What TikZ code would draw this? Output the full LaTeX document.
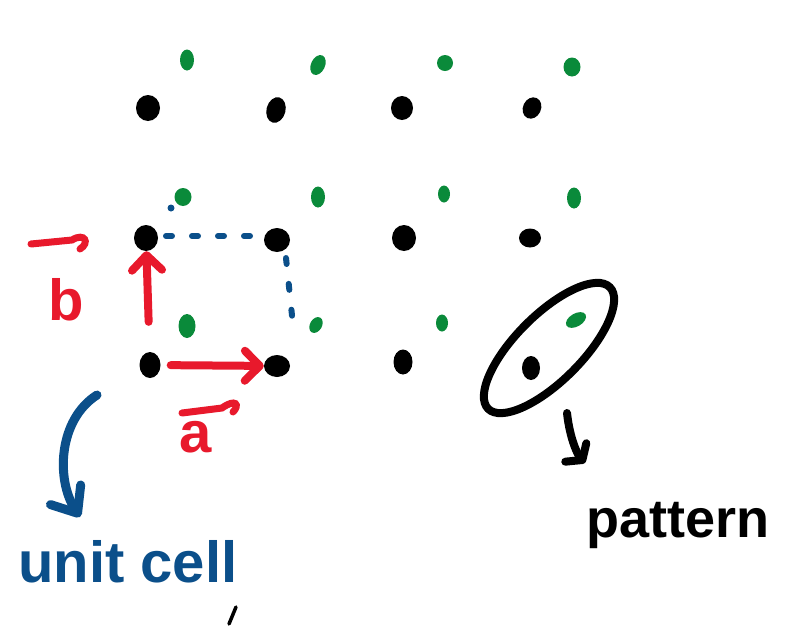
\documentclass[tikz,border=0pt]{standalone}
\usepackage{fontspec}
\setmainfont{Liberation Sans}
\usetikzlibrary{shapes.geometric,arrows.meta}
\definecolor{hred}{HTML}{E8192C}
\definecolor{hblue}{HTML}{0B4F8A}
\definecolor{hgreen}{HTML}{0A8A3A}
\begin{document}
\begin{tikzpicture}[x=1pt,y=-1pt,
  bdot/.style={ellipse,fill=black,draw=none,minimum width=24pt,minimum height=26pt,inner sep=0pt},
  gdot/.style={ellipse,fill=hgreen,draw=none,minimum width=14pt,minimum height=21pt,inner sep=0pt},
  redarrow/.style={hred,line width=8pt,line cap=round,-{Straight Barb[length=15pt,width=30pt,round]}},
  redhook/.style={hred,line width=7pt,line cap=round},
  celldots/.style={hblue,line width=6pt,line cap=round,dash pattern=on 6pt off 20pt},
  hand/.style={inner sep=0pt,font=\fontsize{58}{58}\selectfont\bfseries},
  ucarrow/.style={hblue,line width=9pt,line cap=round,-{Straight Barb[length=22pt,width=36pt,round]}},
  patarrow/.style={black,line width=8pt,line cap=round,-{Straight Barb[length=10pt,width=28pt,round]}}]
\useasboundingbox (0,0) rectangle (785,625);
% black lattice points
\node[bdot] (p11) at (148,108) {};
\node[bdot,rotate=-15,minimum width=19pt] (p12) at (276,110) {};
\node[bdot,minimum width=22pt,minimum height=24pt] (p13) at (402,108) {};
\node[bdot,rotate=-25,minimum width=18pt,minimum height=22pt] (p14) at (532,108) {};
\node[bdot] (p21) at (146,238) {};
\node[bdot,minimum width=26pt,minimum height=24pt] (p22) at (277,240) {};
\node[bdot] (p23) at (404,238) {};
\node[bdot,minimum width=22pt,minimum height=19pt] (p24) at (530,238) {};
\node[bdot,minimum width=21pt,minimum height=26pt] (p31) at (150,365) {};
\node[bdot,minimum width=26pt,minimum height=22pt] (p32) at (277,366) {};
\node[bdot,minimum width=19pt,minimum height=25pt] (p33) at (403,362) {};
\node[bdot,minimum width=18pt,minimum height=24pt] (p34) at (531,368) {};
% green points
\node[gdot] (g11) at (187,60) {};
\node[gdot,rotate=-25] (g12) at (318,65) {};
\node[gdot,minimum width=16pt,minimum height=16pt] (g13) at (445,63) {};
\node[gdot,minimum width=17pt,minimum height=19pt] (g14) at (572,67) {};
\node[gdot,minimum width=17pt,minimum height=18pt] (g21) at (183,197) {};
\node[gdot] (g22) at (318,197) {};
\node[gdot,minimum width=12pt,minimum height=17pt] (g23) at (444,194) {};
\node[gdot] (g24) at (574,198) {};
\node[gdot,minimum width=17pt,minimum height=24pt] (g31) at (187,326) {};
\node[gdot,rotate=-30,minimum width=12pt,minimum height=17pt] (g32) at (316,325) {};
\node[gdot,minimum width=12pt,minimum height=17pt] (g33) at (442,323) {};
\node[gdot,rotate=-60,minimum width=13pt,minimum height=22pt] (g34) at (576,320) {};
% dotted unit cell
\draw[celldots] (166,236) -- (250,236);
\draw[celldots] (286,258) -- (293,325);
\fill[hblue] (171,208) circle (3.5pt);
% lattice vectors
\draw[redarrow,shorten <=10pt,shorten >=0pt] (p31) -- (p32);
\draw[redarrow,shorten <=30pt,shorten >=0pt] (p31) -- (p21);
% vector labels
\node[hand,text=hred,anchor=base] (lb) at (66,320) {b};
\node[hand,text=hred,anchor=base] (la) at (196,452) {a};
\draw[redhook] (31,244) -- (72,240) .. controls (85,232) and (90,243) .. (80,249);
\draw[redhook] (182,413) -- (222,408) .. controls (236,398) and (240,405) .. (233,412);
% unit cell label
\node[hand,text=hblue,anchor=base west] (uc) at (18,582) {unit cell};
\coordinate (ucs) at (97,395);
\coordinate (uce) at (80,517);
\draw[ucarrow] (ucs) .. controls (58,420) and (56,480) .. (uce);
% pattern
\node[ellipse,draw=black,line width=8pt,rotate=45,minimum width=172pt,minimum height=66pt] (pat) at (549,348) {};
\node[hand,text=black,anchor=base west,font=\fontsize{54}{54}\selectfont\bfseries] (pt) at (586,537) {pattern};
\coordinate (pas) at (567,413);
\coordinate (pae) at (585,463);
\draw[patarrow] (pas) .. controls (570,440) and (578,455) .. (pae);
% stray mark
\draw[black,line width=3.5pt,line cap=round] (229,624) -- (236,607);
\end{tikzpicture}
\end{document}
